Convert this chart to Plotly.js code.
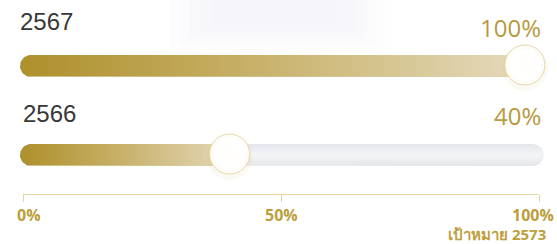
<!DOCTYPE html>
<html><head><meta charset="utf-8">
<script src="https://cdn.plot.ly/plotly-3.0.1.min.js"></script>
<style>html,body{margin:0;padding:0;background:#fff}#c{width:557px;height:244px}</style>
</head><body><div id="c"></div>
<script>
// ---- data ----
const years = ['2567', '2566'];
const values = [100, 40];
const tickVals = [0, 50, 100];
const tickText = ['0%', '50%', '100%'];
const targetLabel = 'เป้าหมาย 2573';

// ---- layout constants ----
const W = 557, H = 244;
const X0 = 32.8, X100 = 524.9;          // px of value 0 and value 100 on bar scale
const K = (X100 - X0) / 100;            // px per unit
const xRange = [-X0 / K, (W - X0) / K];
const toU = px => px / K;
const rowY = [66, 155];
const HALF = 11;
const PADL = 1.8, PADR = 8;
const yearX = [18, 21], yearY = [21, 113];
const valY = [27, 115];

function capsule(u0, u1, yc, r) {
  const xs = [], ys = [], n = 30;
  for (let i = 0; i <= n; i++) {
    const a = -Math.PI / 2 + Math.PI * i / n;
    xs.push(u1 + toU(r * Math.cos(a))); ys.push(yc + r * Math.sin(a));
  }
  for (let i = 0; i <= n; i++) {
    const a = Math.PI / 2 + Math.PI * i / n;
    xs.push(u0 + toU(r * Math.cos(a))); ys.push(yc + r * Math.sin(a));
  }
  xs.push(xs[0]); ys.push(ys[0]);
  return { xs, ys };
}

const traces = [{ type: 'scatter', x: [], y: [], xaxis: 'x', yaxis: 'y', hoverinfo: 'skip', showlegend: false }];
const noLine = { width: 0, color: 'rgba(0,0,0,0)' };

years.forEach((yr, i) => {
  const yc = rowY[i], v = values[i];
  const tr = capsule(-toU(PADL), 100 + toU(PADR), yc, HALF);
  traces.push({ type: 'scatter', mode: 'lines', x: tr.xs, y: tr.ys, xaxis: 'x2', yaxis: 'y',
    fill: 'toself', line: noLine, hoverinfo: 'skip', showlegend: false,
    fillgradient: { type: 'vertical', colorscale: [[0, '#e4e6ea'], [0.5, '#f4f5f7'], [1, '#e4e6ea']] } });
  const pk = capsule(-toU(PADL + 1.2), Math.max(v - 3, 0), yc, HALF - 2);
  traces.push({ type: 'scatter', mode: 'lines', x: pk.xs, y: pk.ys, xaxis: 'x2', yaxis: 'y',
    fill: 'toself', fillcolor: '#ea4c86', line: noLine, hoverinfo: 'skip', showlegend: false });
  const fl = capsule(-toU(PADL), v, yc, HALF);
  traces.push({ type: 'scatter', mode: 'lines', x: fl.xs, y: fl.ys, xaxis: 'x2', yaxis: 'y',
    fill: 'toself', line: noLine, hoverinfo: 'skip', showlegend: false,
    fillgradient: { type: 'horizontal', colorscale: [[0, '#ae902b'], [0.45, '#c7b068'], [1, '#e6dcbf']] } });
  // knob shadow
  traces.push({ type: 'scatter', mode: 'markers', x: [v], y: [yc + 2], xaxis: 'x2', yaxis: 'y',
    marker: { size: 46, color: 'rgba(200,180,120,0.08)', line: { width: 0 } }, hoverinfo: 'skip', showlegend: false });
  // knob
  traces.push({ type: 'scatter', mode: 'markers', x: [v], y: [yc - 1], xaxis: 'x2', yaxis: 'y',
    marker: { size: 40, color: '#ffffff', gradient: { type: 'radial', color: '#f1e5c3' },
      line: { width: 1, color: '#e8d7a3' } }, hoverinfo: 'skip', showlegend: false });
  traces.push({ type: 'scatter', mode: 'markers', x: [v], y: [yc - 1], xaxis: 'x2', yaxis: 'y',
    marker: { size: 33, color: 'rgba(255,255,255,0.95)', line: { width: 0 } }, hoverinfo: 'skip', showlegend: false });
});

const ann = [];
years.forEach((yr, i) => {
  ann.push({ text: yr, xref: 'paper', x: yearX[i] / W, xanchor: 'left', yref: 'y', y: yearY[i], yanchor: 'middle',
    showarrow: false, font: { family: 'Liberation Sans, Arial, sans-serif', size: 24, color: '#383838' } });
  ann.push({ text: values[i] + '%', xref: 'paper', x: 543 / W, xanchor: 'right', yref: 'y', y: valY[i], yanchor: 'middle',
    showarrow: false, font: { family: 'Open Sans, sans-serif', size: 24, color: '#b59a3e' } });
});
const tickShift = [6, 0, -6];
tickVals.forEach((t, i) => {
  ann.push({ text: '<b>' + tickText[i] + '</b>', xref: 'x', x: t, xanchor: 'center', xshift: tickShift[i],
    yref: 'y', y: 215, yanchor: 'middle', showarrow: false, height: 16,
    font: { family: 'Open Sans, sans-serif', size: 16, color: '#bc9e3b' } });
});
ann.push({ text: '<b>' + targetLabel + '</b>', xref: 'paper', x: 547 / W, xanchor: 'right', yref: 'y', y: 234, yanchor: 'middle',
  borderpad: 0, height: 16, showarrow: false, font: { family: 'Open Sans, sans-serif', size: 15, color: '#bc9e3b' } });

const shapes = [];
const blob = [[170, 385, 50], [180, 375, 44], [190, 365, 38], [200, 355, 32], [212, 343, 26]];
blob.forEach(b => shapes.push({ type: 'rect', xref: 'paper', yref: 'y', x0: b[0] / W, x1: b[1] / W, y0: 0, y1: b[2],
  layer: 'below', fillcolor: 'rgba(236,241,250,0.12)', line: { width: 0 } }));

const layout = {
  width: W, height: H, margin: { l: 0, r: 0, t: 0, b: 0 },
  paper_bgcolor: '#ffffff', plot_bgcolor: 'rgba(0,0,0,0)', showlegend: false,
  xaxis: { domain: [23 / W, 539 / W], range: [0, 100], anchor: 'free', position: 1 - 194 / H,
    showgrid: false, zeroline: false, showline: true, linecolor: '#e6d59f', linewidth: 1,
    ticks: 'outside', ticklen: 7, tickcolor: '#e6d59f', tickwidth: 1, tickvals: tickVals,
    showticklabels: false, fixedrange: true },
  xaxis2: { domain: [0, 1], range: xRange, anchor: 'y', visible: false, fixedrange: true },
  yaxis: { domain: [0, 1], range: [H, 0], visible: false, fixedrange: true, anchor: 'x2' },
  shapes: shapes,
  annotations: ann
};
Plotly.newPlot('c', traces, layout, { displayModeBar: false, staticPlot: true });
</script></body></html>
